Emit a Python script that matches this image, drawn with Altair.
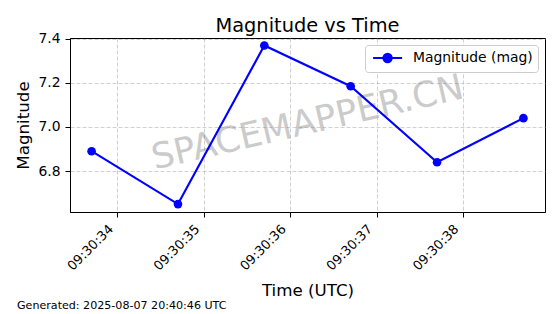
import altair as alt
import pandas as pd

# ---- data ----
clock_prefix = "09:30:"
seconds = [33.7, 34.7, 35.7, 36.7, 37.7, 38.7]
magnitude = [6.89, 6.65, 7.37, 7.185, 6.84, 7.04]
x_ticks = [34, 35, 36, 37, 38]
y_ticks = [6.8, 7.0, 7.2, 7.4]
series_name = "Magnitude (mag)"
title_text = "Magnitude vs Time"
x_title = "Time (UTC)"
y_title = "Magnitude"
watermark = "SPACEMAPPER.CN"
footer = "Generated: 2025-08-07 20:40:46 UTC"

df = pd.DataFrame({"sec": seconds, "mag": magnitude, "series": [series_name] * len(seconds)})

FONT = "DejaVu Sans"
W, H = 475, 174
BLUE = "#0000ff"

x_enc = alt.X(
    "sec:Q",
    scale=alt.Scale(domain=[33.45, 38.95], nice=False, zero=False),
    axis=alt.Axis(
        title=x_title,
        values=x_ticks,
        labelExpr=f"'{clock_prefix}' + format(datum.value, '02d')",
        labelFontSize=13,
        labelAngle=315,
        labelAlign="right",
        labelBaseline="alphabetic",
        labelOffset=-4,
        labelPadding=12.5,
        titleX=W / 2,
        titleY=83.5,
        titleBaseline="alphabetic",
        titleAlign="center",
    ),
)
y_enc = alt.Y(
    "mag:Q",
    scale=alt.Scale(domain=[6.614, 7.404], nice=False, zero=False),
    axis=alt.Axis(
        title=y_title,
        values=y_ticks,
        format=".1f",
        labelPadding=5,
        titleAngle=270,
        titleX=-42,
        titleY=H / 2,
        titleBaseline="alphabetic",
        titleAlign="center",
    ),
)

# line from -1 to 3.14 units (unit = 7 px), dot centred at 1.07 units
legend_path = "M-0.7,0L3.44,0M0.77,0A0.6,0.6,0,1,0,1.97,0A0.6,0.6,0,1,0,0.77,0Z"
color_enc = alt.Color(
    "series:N",
    scale=alt.Scale(domain=[series_name], range=[BLUE]),
    legend=alt.Legend(
        title=None,
        orient="top-right",
        offset=7,
        padding=5,
        symbolType=legend_path,
        symbolSize=196,
        symbolStrokeWidth=2,
        symbolStrokeColor=BLUE,
        symbolFillColor=BLUE,
        labelOffset=27,
        labelFontSize=13.9,
        labelFont=FONT,
        labelColor="black",
        strokeColor="#cccccc",
        fillColor="white",
        cornerRadius=3,
    ),
)

base = alt.Chart(df)

mark_wm = alt.Chart(pd.DataFrame({"t": [watermark]})).mark_text(
    font=FONT, fontSize=35.5, color="gray", opacity=0.4, angle=347,
    align="center", baseline="middle",
).encode(text="t:N", x=alt.value(W / 2), y=alt.value(H / 2 - 2))

line = base.mark_line(strokeWidth=2.1).encode(x=x_enc, y=y_enc, color=color_enc)
pts = base.mark_point(filled=True, size=75, opacity=1).encode(x=x_enc, y=y_enc, color=color_enc)

foot = alt.Chart(pd.DataFrame({"t": [footer]})).mark_text(
    font=FONT, fontSize=11.1, color="black", align="left", baseline="alphabetic",
).encode(text="t:N", x=alt.value(17 - 70), y=alt.value(309 - 38))

chart = (
    alt.layer(mark_wm, line, pts, foot)
    .properties(
        width=W,
        height=H,
        background="white",
        title=alt.TitleParams(
            title_text, fontSize=19.4, font=FONT, fontWeight="normal", color="black",
            anchor="middle", baseline="alphabetic", offset=7.5, dy=27,
        ),
        autosize=alt.AutoSizeParams(type="none"),
        padding={"left": 70, "top": 38, "right": 15, "bottom": 102},
    )
    .configure_view(stroke="black", strokeWidth=1)
    .configure_axis(
        labelFont=FONT, labelFontSize=13.9, labelColor="black",
        titleFont=FONT, titleFontSize=16.7, titleColor="black", titleFontWeight="normal",
        domainColor="black", domainWidth=1, tickColor="black", tickWidth=1, tickSize=5,
        grid=True, gridColor="#b0b0b0", gridOpacity=0.6, gridDash=[4, 2], gridWidth=1,
    )
)

chart.save("out.html", embed_options={"renderer": "svg", "actions": False})
